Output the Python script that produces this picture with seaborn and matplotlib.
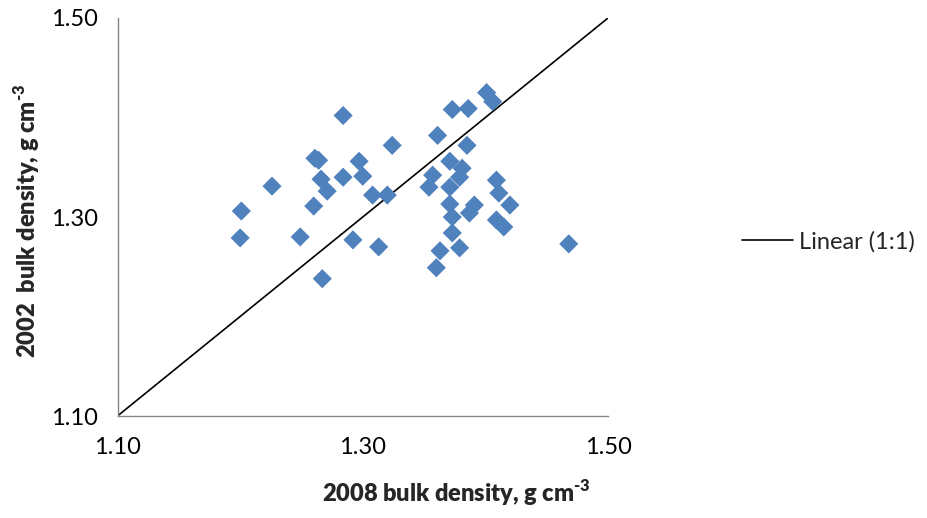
import matplotlib
matplotlib.use("Agg")
import matplotlib.pyplot as plt
import seaborn as sns
import pandas as pd

# Bulk density of the same plots measured in 2008 (x) and 2002 (y), g cm-3
bd_2008 = [1.284, 1.324, 1.261, 1.264, 1.297, 1.300, 1.284, 1.266, 1.271, 1.226,
           1.308, 1.320, 1.260, 1.201, 1.200, 1.249, 1.292, 1.313, 1.267,
           1.401, 1.406, 1.373, 1.386, 1.361, 1.385, 1.371, 1.381, 1.357, 1.379,
           1.354, 1.371, 1.409, 1.411, 1.371, 1.420, 1.391, 1.387, 1.373, 1.409,
           1.415, 1.373, 1.379, 1.363, 1.360, 1.468]
bd_2002 = [1.402, 1.372, 1.359, 1.357, 1.356, 1.341, 1.340, 1.338, 1.326, 1.331,
           1.322, 1.322, 1.311, 1.306, 1.279, 1.280, 1.277, 1.270, 1.238,
           1.425, 1.416, 1.408, 1.409, 1.382, 1.372, 1.356, 1.349, 1.342, 1.340,
           1.330, 1.330, 1.337, 1.324, 1.313, 1.312, 1.312, 1.304, 1.300, 1.297,
           1.290, 1.284, 1.269, 1.266, 1.249, 1.273]

# 1:1 reference line end points
line_x = [1.10, 1.50]
line_y = [1.10, 1.50]

ticks = [1.10, 1.30, 1.50]
tick_labels = ["1.10", "1.30", "1.50"]

sns.set_style("white")
plt.rcParams["font.family"] = ["Lato", "DejaVu Sans"]
plt.rcParams["mathtext.fontset"] = "custom"
plt.rcParams["mathtext.rm"] = "Lato:heavy"
plt.rcParams["mathtext.bf"] = "Lato:heavy"

points = pd.DataFrame({"bd2008": bd_2008, "bd2002": bd_2002})
ref = pd.DataFrame({"x": line_x, "y": line_y})

fig = plt.figure(figsize=(9.27, 5.18), dpi=100)
ax = fig.add_axes([117.5 / 927, 1 - 416 / 518, (608 - 117.5) / 927, (416 - 18) / 518])

sns.scatterplot(data=points, x="bd2008", y="bd2002", marker="D", s=95,
                color="#4F81BD", edgecolor="none", linewidth=0, ax=ax,
                legend=False, zorder=3)
sns.lineplot(data=ref, x="x", y="y", color="black", linewidth=1.2, ax=ax,
             label="Linear (1:1)", zorder=2)

ax.set_xlim(1.10, 1.50)
ax.set_ylim(1.10, 1.50)
ax.set_xticks(ticks)
ax.set_xticklabels(tick_labels)
ax.set_yticks(ticks)
ax.set_yticklabels(tick_labels)

axis_grey = "#868686"
for side in ["top", "right"]:
    ax.spines[side].set_visible(False)
for side in ["left", "bottom"]:
    ax.spines[side].set_color(axis_grey)
    ax.spines[side].set_linewidth(1.0)

ax.tick_params(axis="both", which="major", direction="out", length=7,
               width=1.0, color=axis_grey, labelsize=17, labelcolor="black")
ax.tick_params(axis="x", pad=8)
ax.tick_params(axis="y", pad=7)

ax.set_xlabel(r"2008 bulk density, g cm$^{\text{-3}}$", fontsize=17,
              fontweight="heavy")
ax.set_ylabel(r"2002  bulk density, g cm$^{\text{-3}}$", fontsize=17,
              fontweight="heavy")
ax.xaxis.set_label_coords((456 - 117.5) / 490.5, -(493 - 416) / 398)
ax.xaxis.label.set_va("center")
ax.yaxis.set_label_coords(-(117.5 - 27) / 490.5, (416 - 221) / 398)
ax.yaxis.label.set_va("center")

ax.legend(loc="center left", bbox_to_anchor=(742 / 927, 1 - 242 / 518),
          bbox_transform=fig.transFigure, frameon=False, fontsize=17,
          handlelength=2.15, handletextpad=0.25, borderpad=0, borderaxespad=0)

fig.savefig("out.png", dpi=100)
